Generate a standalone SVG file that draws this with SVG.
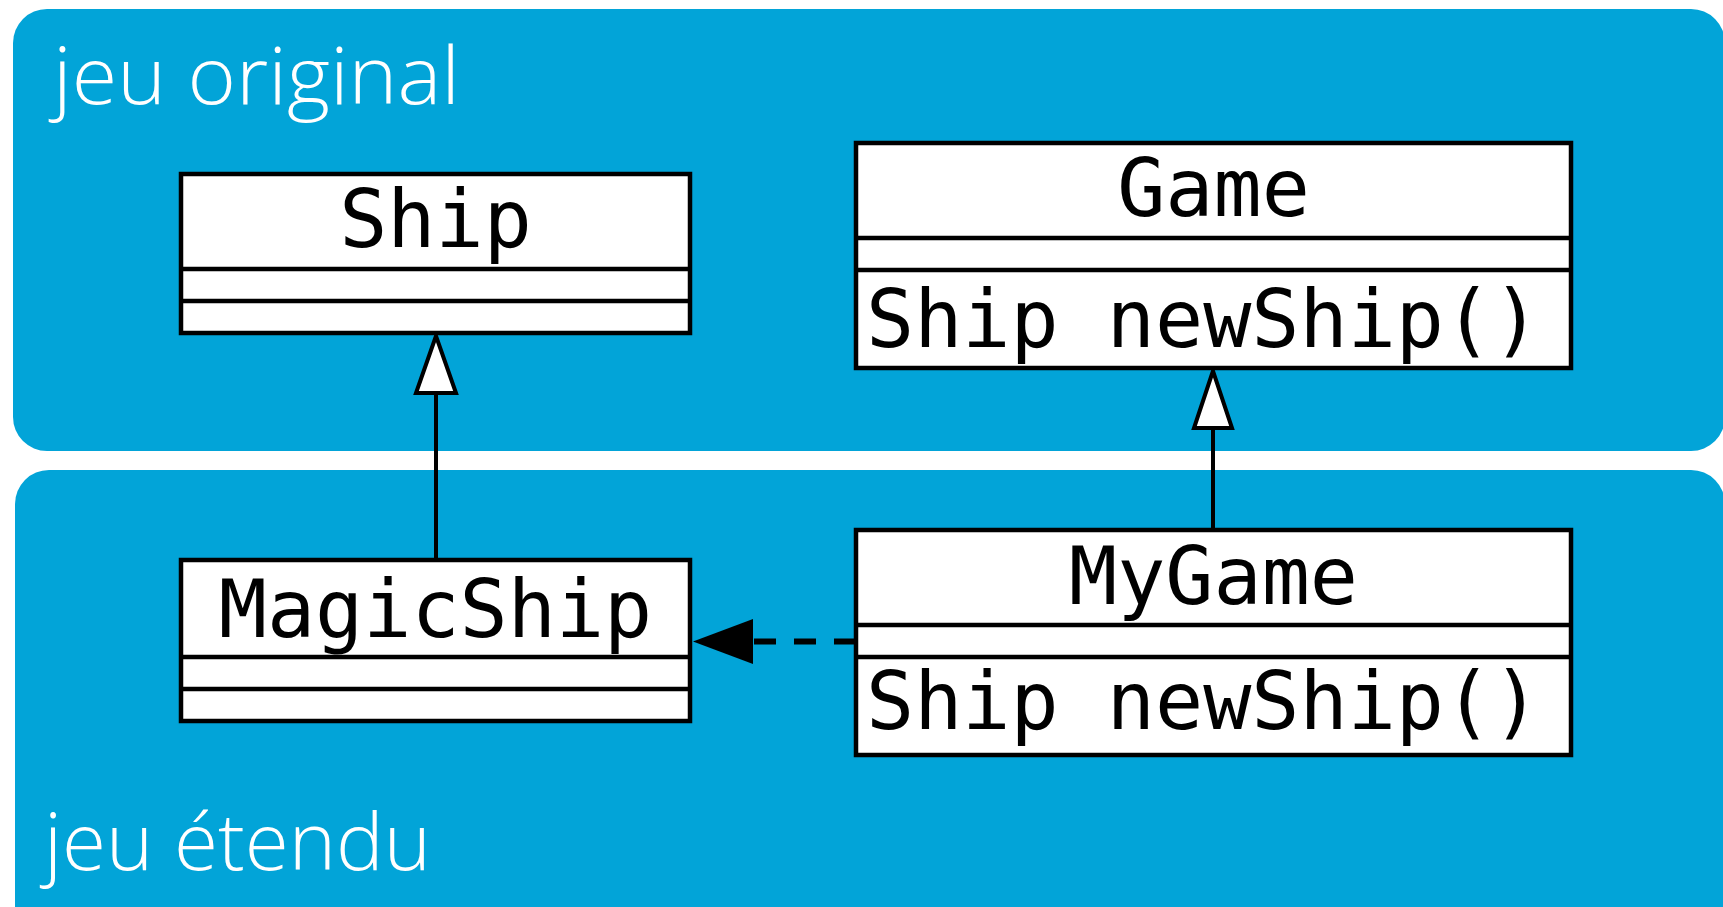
<svg xmlns="http://www.w3.org/2000/svg" width="1723" height="907" viewBox="0 0 1723 907">
<defs>
<style>
.panel{fill:#02A4D8}
.ptitle{font-family:"Open Sans","Noto Sans",sans-serif;font-weight:300;font-size:80px;fill:#ffffff}
.box{fill:#ffffff;stroke:#000000;stroke-width:4.5}
.sep{stroke:#000000;stroke-width:4.5}
.mono{font-family:"DejaVu Sans Mono","Liberation Mono",monospace;font-size:80px;fill:#000000}
.edge{stroke:#000000;stroke-width:4;fill:none}
.gen{fill:#ffffff;stroke:#000000;stroke-width:4;stroke-linejoin:miter}
</style>
</defs>
<rect width="1723" height="907" fill="#ffffff"/>
<g id="panel-original">
<rect class="panel" x="13" y="9" width="1712" height="442" rx="34" ry="34"/>
<text class="ptitle" x="53" y="104" textLength="407" lengthAdjust="spacingAndGlyphs">jeu original</text>
</g>
<g id="panel-etendu">
<rect class="panel" x="15" y="470" width="1710" height="470" rx="34" ry="34"/>
<text class="ptitle" x="44" y="870" textLength="387" lengthAdjust="spacingAndGlyphs">jeu étendu</text>
</g>
<g id="connectors">
<line class="edge" x1="436" y1="560" x2="436" y2="393"/>
<path class="gen" d="M436,336 L416,393 L456,393 Z"/>
<line class="edge" x1="1213" y1="530" x2="1213" y2="428"/>
<path class="gen" d="M1213,371 L1194,428 L1232,428 Z"/>
<line x1="856" y1="641.5" x2="753" y2="641.5" stroke="#000000" stroke-width="6" stroke-dasharray="22,18"/>
<path d="M693,641.5 L753,619 L753,664 Z" fill="#000000"/>
</g>
<g id="node-ship">
<rect class="box" x="181" y="174" width="509" height="159"/>
<line class="sep" x1="181" y1="269" x2="690" y2="269"/>
<line class="sep" x1="181" y1="301" x2="690" y2="301"/>
<text class="mono" x="435.5" y="247" text-anchor="middle">Ship</text>
</g>
<g id="node-game">
<rect class="box" x="856" y="143" width="715" height="225"/>
<line class="sep" x1="856" y1="238" x2="1571" y2="238"/>
<line class="sep" x1="856" y1="270" x2="1571" y2="270"/>
<text class="mono" x="1213.5" y="216" text-anchor="middle">Game</text>
<text class="mono" x="866" y="347">Ship newShip()</text>
</g>
<g id="node-magicship">
<rect class="box" x="181" y="560" width="509" height="161"/>
<line class="sep" x1="181" y1="657" x2="690" y2="657"/>
<line class="sep" x1="181" y1="689" x2="690" y2="689"/>
<text class="mono" x="435.5" y="637" text-anchor="middle">MagicShip</text>
</g>
<g id="node-mygame">
<rect class="box" x="856" y="530" width="715" height="225"/>
<line class="sep" x1="856" y1="625" x2="1571" y2="625"/>
<line class="sep" x1="856" y1="657" x2="1571" y2="657"/>
<text class="mono" x="1213.5" y="604" text-anchor="middle">MyGame</text>
<text class="mono" x="866" y="729">Ship newShip()</text>
</g>
</svg>
